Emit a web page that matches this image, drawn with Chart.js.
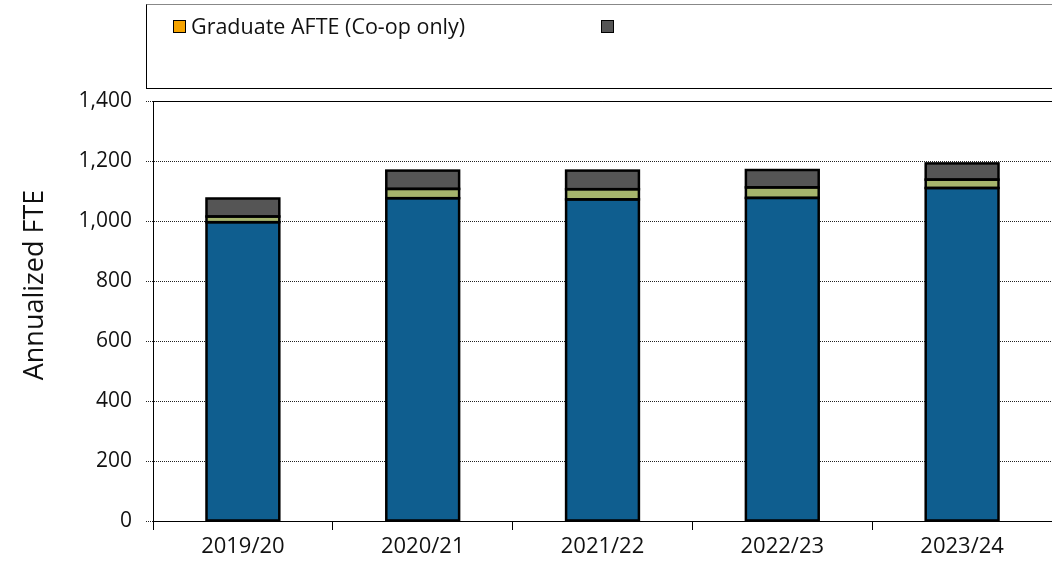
<!DOCTYPE html>
<html>
<head>
<meta charset="utf-8">
<script src="https://cdn.jsdelivr.net/npm/chart.js@4.4.0/dist/chart.umd.min.js"></script>
<style>
  body { margin: 0; background: #fff; font-family: "Open Sans", sans-serif; }
  #wrap { position: relative; width: 1052px; height: 571px; overflow: hidden; }
  #legendBox {
    position: absolute; left: 146px; top: 4px; width: 920px; height: 85px;
    border: 1px solid #000; border-top-color: #888; box-sizing: border-box;
  }
  .item { position: absolute; top: 7px; font-size: 21.5px; color: #111; line-height: 28px; white-space: nowrap; }
  .swatch { display: inline-block; width: 11px; height: 11px; border: 1px solid #000; margin-right: 5px; vertical-align: 1px; }
</style>
</head>
<body>
<div id="wrap">
  <canvas id="chart" width="1052" height="571"></canvas>
  <div id="legendBox"></div>
</div>
<script>
// dados
const years = ['2019/20', '2020/21', '2021/22', '2022/23', '2023/24'];
const baseAfte = [996, 1076, 1072, 1077, 1110];
const gradAfte = [19, 31, 34, 35, 28];
const coopAfte = [0, 0, 0, 0, 0];
const otherAfte = [60, 61, 62, 58, 54];
const yTicks = [0, 200, 400, 600, 800, 1000, 1200, 1400];

const legendItems = [
    { label: 'Graduate AFTE (Co-op only)', color: '#F5A300', left: 26 },
    { label: '', color: '#555555', left: 454 }
];

// legenda
const legendBox = document.getElementById('legendBox');
legendItems.forEach(item => {
    const el = document.createElement('div');
    el.className = 'item';
    el.style.left = item.left + 'px';
    el.innerHTML = `<span class="swatch" style="background:${item.color}"></span>${item.label}`;
    legendBox.appendChild(el);
});

// contorno das barras centrado na borda + linha superior + titulo do eixo
const extras = {
    id: 'extras',
    afterDatasetsDraw(chart) {
        const { ctx } = chart;
        ctx.save();
        ctx.strokeStyle = '#000';
        ctx.lineWidth = 2.5;
        chart.data.datasets.forEach((ds, i) => {
            chart.getDatasetMeta(i).data.forEach(bar => {
                const { x, y, base, width } = bar.getProps(['x', 'y', 'base', 'width'], true);
                if (Math.abs(base - y) < 0.5) return;
                ctx.strokeRect(x - width / 2, Math.min(y, base), width, Math.abs(base - y));
            });
        });
        ctx.restore();
    },
    afterDraw(chart) {
        const { ctx, chartArea } = chart;
        ctx.save();
        ctx.strokeStyle = '#000';
        ctx.lineWidth = 1;
        ctx.beginPath();
        ctx.moveTo(chartArea.left, chartArea.top + 0.5);
        ctx.lineTo(chartArea.right, chartArea.top + 0.5);
        ctx.stroke();

        ctx.translate(35, 285);
        ctx.rotate(-Math.PI / 2);
        ctx.fillStyle = '#111';
        ctx.font = '27px "Open Sans", sans-serif';
        ctx.textAlign = 'center';
        ctx.textBaseline = 'middle';
        ctx.fillText('Annualized FTE', 0, 0);
        ctx.restore();
    }
};

const tickFont = { family: '"Open Sans", sans-serif', size: 21 };

new Chart(document.getElementById('chart').getContext('2d'), {
    type: 'bar',
    data: {
        labels: years,
        datasets: [
            { label: 'Undergraduate AFTE', data: baseAfte, backgroundColor: '#0F5E8F' },
            { label: 'Graduate AFTE', data: gradAfte, backgroundColor: '#A6B56D' },
            { label: 'Graduate AFTE (Co-op only)', data: coopAfte, backgroundColor: '#F5A300' },
            { label: 'Other', data: otherAfte, backgroundColor: '#555555' }
        ].map(ds => Object.assign(ds, {
            borderWidth: 0,
            categoryPercentage: 1,
            barPercentage: 0.405
        }))
    },
    options: {
        responsive: false,
        animation: false,
        layout: { padding: { top: 101, right: 0, left: 0, bottom: 0 } },
        plugins: { legend: { display: false }, tooltip: { enabled: false } },
        scales: {
            x: {
                stacked: true,
                grid: {
                    offset: true,
                    drawOnChartArea: false,
                    color: '#000',
                    tickLength: 9
                },
                border: { color: '#000', width: 1 },
                ticks: { color: '#111', font: { family: '"Open Sans", sans-serif', size: 22 }, padding: 4 },
                afterFit: s => { s.height = 50; }
            },
            y: {
                stacked: true,
                min: 0,
                max: 1400,
                afterBuildTicks: s => { s.ticks = yTicks.map(v => ({ value: v })); },
                grid: {
                    color: '#222',
                    tickBorderDash: [1, 1],
                    tickLength: 7
                },
                border: { color: '#000', width: 1, dash: [1, 1] },
                ticks: {
                    color: '#111',
                    font: tickFont,
                    padding: 14,
                    callback: v => v.toLocaleString('en-US')
                },
                afterFit: s => { s.width = 153; }
            }
        }
    },
    plugins: [extras]
});
</script>
</body>
</html>
